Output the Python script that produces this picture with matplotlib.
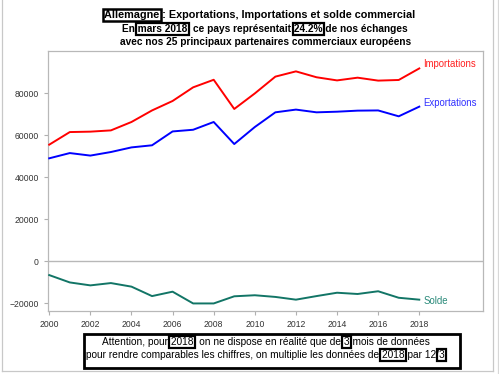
import matplotlib
matplotlib.use("Agg")
import matplotlib.pyplot as plt
from matplotlib.patches import Rectangle
from matplotlib.lines import Line2D

plt.rcParams['font.family'] = ['Liberation Sans', 'DejaVu Sans']

years = list(range(2000, 2019))
importations = [55400, 61400, 61600, 62200, 66200, 71700, 76200, 82700, 86300, 72400,
                79800, 87800, 90300, 87500, 86000, 87300, 85900, 86200, 91700]
exportations = [48900, 51400, 50200, 51900, 54100, 55100, 61700, 62500, 66200, 55700,
                63800, 70800, 72100, 70800, 71100, 71600, 71700, 68900, 73500]
solde = [-6700, -10200, -11600, -10500, -12200, -16700, -14600, -20200, -20200, -16800,
         -16300, -17100, -18400, -16700, -15100, -15700, -14400, -17500, -18400]
xticks = list(range(2000, 2019, 2))
yticks = [-20000, 0, 20000, 40000, 60000, 80000]

W, H = 499, 374
fig = plt.figure(figsize=(W / 100, H / 100), dpi=100)
fig.patch.set_facecolor('white')

def fx(px):
    return px / W

def fy(py):
    return 1 - py / H

ax = fig.add_axes([fx(48), fy(311), fx(483) - fx(48), fy(51) - fy(311)])
ax.set_xlim(1999.94, 2021.1)
ax.set_ylim(-23800, 100000)

c_imp = '#ff0000'
c_exp = '#0000ff'
c_sol = '#127566'
ax.axhline(0, color='#b8b8b8', lw=1.0, zorder=1)
ax.plot(years, importations, color=c_imp, lw=1.4, zorder=3)
ax.plot(years, exportations, color=c_exp, lw=1.4, zorder=3)
ax.plot(years, solde, color=c_sol, lw=1.4, zorder=3)

lab_fs = 6.9
ax.annotate('Importations', (years[-1], importations[-1]), xytext=(4, 4),
            textcoords='offset pixels', color='#ff2020', fontsize=lab_fs, va='center', ha='left')
ax.annotate('Exportations', (years[-1], exportations[-1]), xytext=(4, 4),
            textcoords='offset pixels', color='#3030ff', fontsize=lab_fs, va='center', ha='left')
ax.annotate('Solde', (years[-1], solde[-1]), xytext=(4, -1),
            textcoords='offset pixels', color='#2a8a7a', fontsize=lab_fs, va='center', ha='left')

ax.set_xticks(xticks)
ax.set_yticks(yticks)
ax.tick_params(axis='both', colors='#b0b0b0', labelcolor='#333333', labelsize=6.2,
               length=3, width=0.8)
for s in ax.spines.values():
    s.set_color('#b8b8b8')
    s.set_linewidth(0.9)

fig.canvas.draw()
renderer = fig.canvas.get_renderer()

def text_width(s, **kw):
    t = fig.text(0, 0, s, **kw)
    w = t.get_window_extent(renderer).width
    t.remove()
    return w

def boxed_line(cx, cy, parts, boxes_lw=1.6, pad=1.5, **kw):
    full = ''.join(p for p, _ in parts)
    t = fig.text(fx(cx), fy(cy), full, ha='center', va='center', **kw)
    bb = t.get_window_extent(renderer)
    left = bb.x0
    prefix = ''
    for p, boxed in parts:
        if boxed:
            w_end = text_width(prefix + p, **kw)
            w_sub = text_width(p, **kw)
            x0 = left + w_end - w_sub - pad
            x1 = left + w_end + pad
            y0 = bb.y0 - pad + 0.5
            y1 = bb.y1 + pad - 0.5
            fig.add_artist(Rectangle((x0 / W, y0 / H), (x1 - x0) / W, (y1 - y0) / H,
                                     transform=fig.transFigure, fill=False,
                                     edgecolor='black', lw=boxes_lw, zorder=5))
        prefix += p

title_kw = dict(fontsize=7.8, fontweight='bold', color='black')
sub_kw = dict(fontsize=7.3, fontweight='bold', color='black')
note_kw = dict(fontsize=7.3, color='black')

boxed_line(260, 15, [('Allemagne', True), (' : Exportations, Importations et solde commercial', False)],
           boxes_lw=1.8, **title_kw)
boxed_line(265, 29, [('En ', False), ('mars 2018', True), (', ce pays représentait ', False),
                     ('24.2%', True), (' de nos échanges', False)], **sub_kw)
boxed_line(266, 42, [('avec nos 25 principaux partenaires commerciaux européens', False)], **sub_kw)

boxed_line(266, 342, [('Attention, pour ', False), ('2018', True), (', on ne dispose en réalité que de ', False),
                      ('3', True), (' mois de données', False)], **note_kw)
boxed_line(265, 355, [('pour rendre comparables les chiffres, on multiplie les données de ', False),
                      ('2018', True), (' par 12/', False), ('3', True)], **note_kw)

# Note frame
fig.add_artist(Rectangle((fx(84), fy(368)), fx(460) - fx(84), fy(334) - fy(368),
                         transform=fig.transFigure, fill=False, edgecolor='black', lw=2.0))

# outer frame lines
fig.add_artist(Line2D([fx(1.5), fx(1.5)], [fy(0), fy(371)], transform=fig.transFigure,
                      color='#c8c8c8', lw=0.9))
fig.add_artist(Line2D([fx(1.5), fx(493)], [fy(371), fy(371)], transform=fig.transFigure,
                      color='#c8c8c8', lw=0.9))
fig.add_artist(Line2D([fx(493), fx(493)], [fy(0), fy(371)], transform=fig.transFigure,
                      color='#c8c8c8', lw=0.9))
fig.add_artist(Line2D([fx(498), fx(498)], [fy(0), fy(374)], transform=fig.transFigure,
                      color='#d8d8d8', lw=0.9))

fig.savefig('out.png', dpi=100)
